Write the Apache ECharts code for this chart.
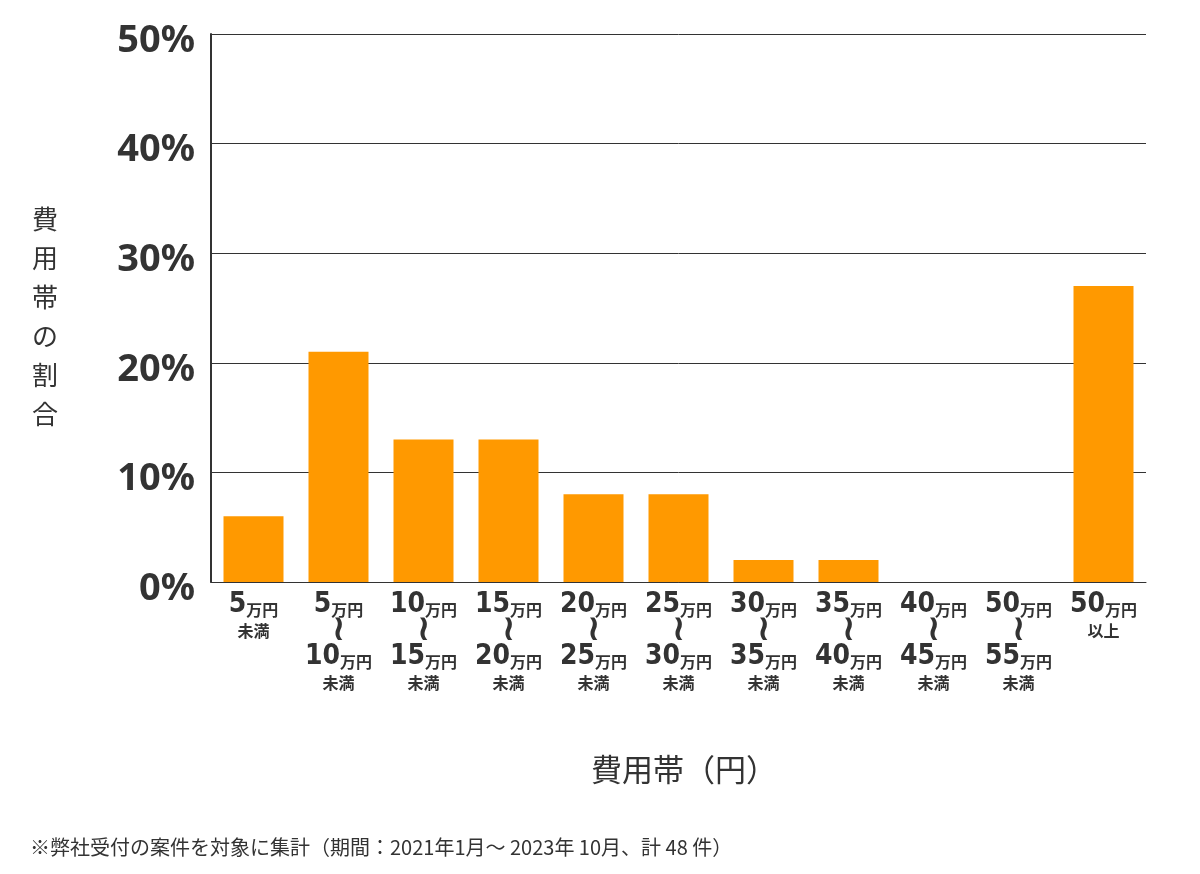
<!DOCTYPE html>
<html>
<head>
<meta charset="utf-8">
<script src="https://cdn.jsdelivr.net/npm/echarts@6/dist/echarts.min.js"></script>
<style>html,body{margin:0;padding:0;background:#fff}#c{width:1200px;height:874px}</style>
</head>
<body>
<div id="c"></div>
<script>
const categories = ['5万円未満','5万円～10万円未満','10万円～15万円未満','15万円～20万円未満','20万円～25万円未満','25万円～30万円未満','30万円～35万円未満','35万円～40万円未満','40万円～45万円未満','50万円～55万円未満','50万円以上'];
const shares = [6, 21, 13, 13, 8, 8, 2, 2, 0, 0, 27];
const yTicks = [0, 10, 20, 30, 40, 50];
const yAxisTitle = '費用帯の割合';
const xAxisTitle = '費用帯（円）';
const footnote = '※弊社受付の案件を対象に集計（期間：2021年1月～ 2023年 10月、計 48 件）';

function fmt(s) {
  let m;
  if ((m = s.match(/^(\d+)万円未満$/))) return '{n|' + m[1] + '}{u|万円}\n{s|未満}';
  if ((m = s.match(/^(\d+)万円以上$/))) return '{n|' + m[1] + '}{u|万円}\n{s|以上}';
  if ((m = s.match(/^(\d+)万円～(\d+)万円未満$/))) return '{n|' + m[1] + '}{u|万円}\n{w|≀}\n{n|' + m[2] + '}{u|万円}\n{s|未満}';
  return s;
}

const chart = echarts.init(document.getElementById('c'));
chart.setOption({
  animation: false,
  grid: { left: 211, right: 54, top: 34, bottom: 292 },
  xAxis: {
    type: 'category',
    data: categories,
    axisLine: { lineStyle: { color: '#333', width: 1 } },
    axisTick: { show: false },
    axisLabel: {
      interval: 0,
      margin: 10,
      formatter: fmt,
      lineHeight: 26,
      rich: {
        n: { fontFamily: 'DejaVu Sans Condensed', fontWeight: 'bold', fontSize: 28, color: '#333', lineHeight: 26 },
        u: { fontFamily: 'Noto Sans CJK JP', fontWeight: 'bold', fontSize: 16, color: '#333', lineHeight: 26, verticalAlign: 'bottom' },
        s: { fontFamily: 'Noto Sans CJK JP', fontWeight: 'bold', fontSize: 16, color: '#333', lineHeight: 25 },
        w: { fontFamily: 'DejaVu Sans', fontWeight: 'bold', fontSize: 36, color: '#333', lineHeight: 26 }
      }
    }
  },
  yAxis: {
    type: 'value',
    min: yTicks[0],
    max: yTicks[yTicks.length - 1],
    interval: 10,
    axisLine: { show: true, lineStyle: { color: '#333', width: 2 } },
    axisTick: { show: false },
    splitLine: { lineStyle: { color: '#333', width: 1 } },
    axisLabel: {
      formatter: function (v) { return '{p|' + v + '%}'; },
      margin: 16,
      rich: {
        p: { fontFamily: 'Noto Sans', fontWeight: 'bold', fontSize: 38, color: '#333', lineHeight: 40, padding: [14, 0, 0, 0] }
      }
    }
  },
  series: [{
    type: 'bar',
    data: shares,
    barWidth: 60,
    itemStyle: { color: '#FF9900' }
  }],
  graphic: [
    {
      type: 'text', left: 32, top: 200,
      style: { text: yAxisTitle.split('').join('\n'), font: '26px "Noto Sans CJK JP"', fill: '#333', lineHeight: 39, align: 'left' }
    },
    {
      type: 'text', left: 591, top: 754,
      style: { text: xAxisTitle, font: '31px "Noto Sans CJK JP"', fill: '#333' }
    },
    {
      type: 'text', left: 30, top: 837,
      style: { text: footnote, font: '20px "Noto Sans CJK JP"', fill: '#333' }
    }
  ]
});
</script>
</body>
</html>
